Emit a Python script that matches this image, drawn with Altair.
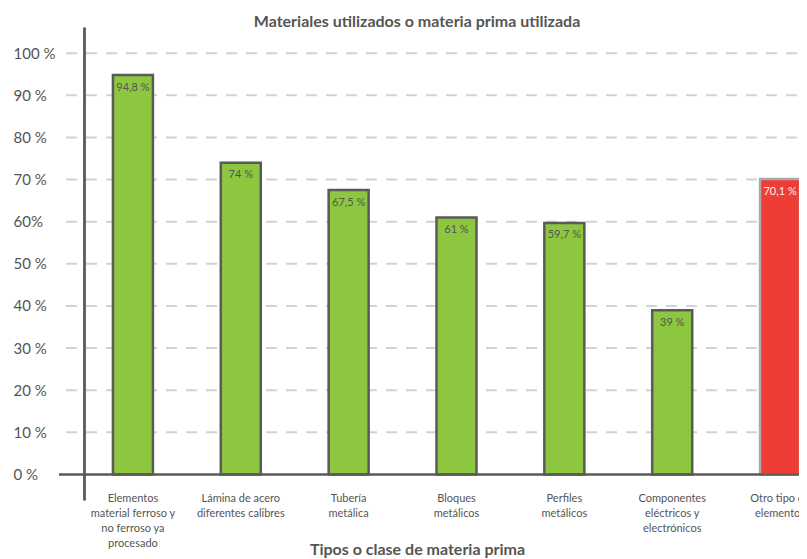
import altair as alt
import pandas as pd

categories = [
    "Elementos|material ferroso y|no ferroso ya|procesado",
    "Lámina de acero|diferentes calibres",
    "Tubería|metálica",
    "Bloques|metálicos",
    "Perfiles|metálicos",
    "Componentes|eléctricos y|electrónicos",
    "Otro tipo de|elementos",
]
values = [94.8, 74, 67.5, 61, 59.7, 39, 70.1]
highlight = "Otro tipo de|elementos"

y_tick_values = [0, 10, 20, 30, 40, 50, 60, 70, 80, 90, 100]
y_tick_labels = ["0 %", "10 %", "20 %", "30 %", "40 %", "50 %", "60%", "70 %", "80 %", "90 %", "100 %"]

df = pd.DataFrame({
    "cat": categories,
    "val": values,
    "label": [(f"{v:g}".replace(".", ",") + " %") for v in values],
})
grid_df = pd.DataFrame({"g": y_tick_values[1:]})
base_df = pd.DataFrame({"b": [0]})

label_expr = " : ".join(
    [f"datum.value == {v} ? '{l}'" for v, l in zip(y_tick_values, y_tick_labels)] + ["''"]
)

FONT = "Lato"
TXT = "#555555"

xscale = alt.Scale(range=[20, 775], paddingInner=0.629, paddingOuter=0.3145)
yscale = alt.Scale(domain=[-6.05, 106.2], nice=False, zero=False)

y_axis = alt.Axis(
    values=y_tick_values, labelExpr=label_expr, grid=False, ticks=False,
    tickSize=0, domainColor="#5a5a5a", domainWidth=2.8, offset=-25,
    labelAlign="left", labelBaseline="middle", labelPadding=71, labelFontSize=15,
    labelColor=TXT, labelFont=FONT, zindex=1,
)

x_enc = alt.X(
    "cat:N", sort=categories, scale=xscale,
    axis=alt.Axis(
        title="Tipos o clase de materia prima",
        titleFontSize=16, titleFontWeight="bold", titleColor=TXT, titleFont=FONT,
        titleX=358, titleY=62, titleBaseline="alphabetic", titleAnchor="middle",
        labelExpr="split(datum.label, '|')", labelAngle=0, labelFontSize=11,
        labelColor=TXT, labelLineHeight=15, labelBaseline="top", labelPadding=0,
        offset=-8, ticks=False, tickSize=0, domain=False, labelFont=FONT,
    ),
)

grid = alt.Chart(grid_df).mark_rule(
    color="#d2d2d2", strokeWidth=2, strokeDash=[11, 9], strokeDashOffset=18
).encode(y=alt.Y("g:Q", scale=yscale, axis=y_axis, title=None))

bars = alt.Chart(df).mark_bar(strokeWidth=2.5).encode(
    x=x_enc,
    y=alt.Y("val:Q", scale=yscale, axis=y_axis, title=None),
    y2=alt.datum(0),
    color=alt.condition(f"datum.cat == '{highlight}'", alt.value("#ee3d36"), alt.value("#8dc63f")),
    stroke=alt.condition(f"datum.cat == '{highlight}'", alt.value("#a9a9a9"), alt.value("#5a5a5a")),
)

baseline = alt.Chart(base_df).mark_rule(color="#5a5a5a", strokeWidth=2.5).encode(
    y=alt.Y("b:Q", scale=yscale, axis=y_axis, title=None)
)

texts = alt.Chart(df).mark_text(
    baseline="alphabetic", align="center", dy=15.5, fontSize=11, font=FONT
).encode(
    x=alt.X("cat:N", sort=categories, scale=xscale),
    y=alt.Y("val:Q", scale=yscale, axis=y_axis, title=None),
    text="label:N",
    color=alt.condition(f"datum.cat == '{highlight}'", alt.value("#f2f2f2"), alt.value("#555555")),
)

chart = alt.layer(grid, bars, baseline, texts).properties(
    width=740,
    height=473,
    title=alt.TitleParams(
        "Materiales utilizados o materia prima utilizada",
        fontSize=16, fontWeight="bold", color=TXT, font=FONT,
        anchor="middle", frame="group", dx=-12, dy=17, offset=1, baseline="alphabetic",
    ),
    autosize=alt.AutoSizeParams(type="none"),
    padding={"left": 51, "top": 19, "right": 0, "bottom": 59},
).configure_view(stroke=None)

chart.save("out.html", embed_options={"renderer": "svg", "actions": False})
